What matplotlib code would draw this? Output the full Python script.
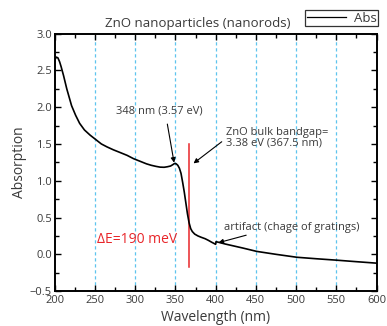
#!/usr/bin/env python3

import matplotlib
matplotlib.use('Agg')
import matplotlib.pyplot as plt
from matplotlib.ticker import MultipleLocator

# Absorption spectrum
wavelength = [200, 202, 204, 206, 208, 211, 215, 221, 226, 231, 237, 244, 251,
              258, 265, 273, 281, 290, 298, 306, 314, 320, 326, 331, 336, 340,
              344, 347, 349, 351, 353, 355, 357, 359, 361, 363, 365, 367, 369,
              371, 374, 378, 382, 387, 391, 395, 398, 400, 400.5, 405, 412,
              420, 434, 451, 475, 501, 525, 551, 575, 600]
absorption = [2.64, 2.68, 2.67, 2.62, 2.55, 2.43, 2.25, 2.02, 1.89, 1.78, 1.69,
              1.62, 1.56, 1.50, 1.46, 1.42, 1.385, 1.345, 1.30, 1.265, 1.23,
              1.21, 1.195, 1.185, 1.183, 1.19, 1.20, 1.22, 1.235, 1.23, 1.21,
              1.17, 1.10, 0.98, 0.85, 0.70, 0.55, 0.43, 0.35, 0.31, 0.275,
              0.25, 0.232, 0.212, 0.19, 0.165, 0.148, 0.136, 0.172, 0.16, 0.14,
              0.12, 0.085, 0.04, 0.0, -0.04, -0.06, -0.08, -0.10, -0.12]

grid_lines = [250, 300, 350, 400, 450, 500, 550]
bandgap_nm = 367.5
bandgap_span = [-0.17, 1.50]

plt.rcParams['font.family'] = ['Open Sans', 'DejaVu Sans']
text_col = '#3a3a3a'

fig = plt.figure(figsize=(3.87, 3.26), dpi=100)
ax = fig.add_axes([0.1413, 0.107, 0.8317, 0.790])

for g in grid_lines:
    ax.axvline(g, color='#5ec4ee', lw=0.9, ls=(0, (2.6, 2.2)), zorder=1)

ax.plot(wavelength, absorption, color='black', lw=1.2, label='Abs', zorder=3)
ax.plot([bandgap_nm, bandgap_nm], bandgap_span, color='#e8262a', lw=1.1, zorder=2)

ax.set_xlim(200, 600)
ax.set_ylim(-0.5, 3.0)
ax.xaxis.set_major_locator(MultipleLocator(50))
ax.xaxis.set_minor_locator(MultipleLocator(25))
ax.yaxis.set_major_locator(MultipleLocator(0.5))
ax.yaxis.set_minor_locator(MultipleLocator(0.25))
ax.tick_params(which='both', direction='in', top=True, right=True,
               labelsize=8, labelcolor=text_col, width=1.0)
ax.tick_params(which='major', length=4, pad=3)
ax.tick_params(which='minor', length=3)
ax.tick_params(axis='y', pad=2)
for s in ax.spines.values():
    s.set_linewidth(1.4)

ax.set_xlabel('Wavelength (nm)', fontsize=10, color=text_col, labelpad=3)
ax.set_ylabel('Absorption', fontsize=10, color=text_col, labelpad=2)

fig.text(197.5 / 387, 1 - 26.5 / 326, 'ZnO nanoparticles (nanorods)',
         ha='center', va='baseline', fontsize=9.5, color=text_col)

leg = ax.legend(loc='lower right', bbox_to_anchor=(1.006, 1.03),
                borderaxespad=0, fancybox=False, frameon=True, fontsize=9.5,
                handlelength=3.0, handletextpad=0.6, borderpad=0.1,
                labelcolor=text_col)
leg.get_frame().set_edgecolor('black')
leg.get_frame().set_linewidth(0.9)
for line in leg.get_lines():
    line.set_linewidth(0.9)

arrow = dict(arrowstyle='-|>', color='black', lw=0.8, mutation_scale=7,
             shrinkA=0, shrinkB=0)
ax.text(330, 1.95, '348 nm (3.57 eV)', ha='center', va='center',
        fontsize=8, color=text_col)
ax.annotate('', xy=(348.4, 1.245), xytext=(340, 1.77), arrowprops=arrow)

ax.text(413, 1.59, 'ZnO bulk bandgap=\n3.38 eV (367.5 nm)', ha='left',
        va='center', fontsize=8, color=text_col, linespacing=0.95)
ax.annotate('', xy=(372.5, 1.236), xytext=(407.6, 1.53), arrowprops=arrow)

ax.text(411, 0.36, 'artifact (chage of gratings)', ha='left', va='center',
        fontsize=8, color=text_col)
ax.annotate('', xy=(403.5, 0.158), xytext=(438, 0.26), arrowprops=arrow)

ax.text(252, 0.20, '\u0394E=190 meV', ha='left', va='center',
        fontsize=10, color='#e8262a')

fig.savefig('out.png', dpi=100)
